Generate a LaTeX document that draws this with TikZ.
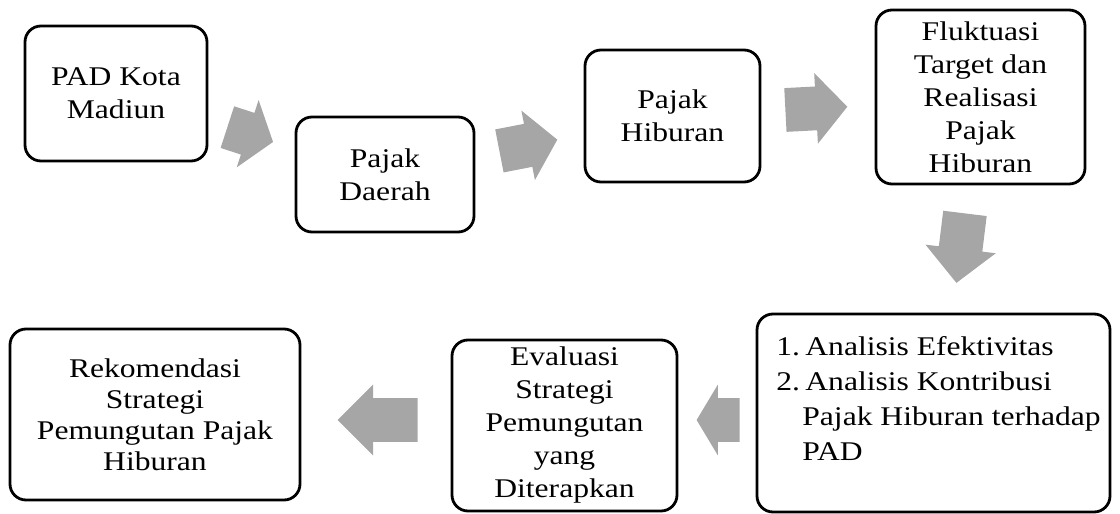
\documentclass[tikz,border=0pt]{standalone}
\usepackage{fontspec}
\setmainfont{Liberation Serif}[FakeStretch=1.17]
\usetikzlibrary{shapes.arrows}
\definecolor{arrowgray}{RGB}{166,166,166}
\tikzset{
  box/.style={draw,line width=1.4pt,rounded corners=8pt,fill=white,align=center,inner sep=0pt,font=\fontsize{13.5}{16.5}\selectfont},
  listtext/.style={align=left,inner sep=0pt,anchor=north west,font=\fontsize{13.5}{17.5}\selectfont},
  blockarrow/.style={single arrow,fill=arrowgray,inner xsep=0pt,inner ysep=10.75pt,minimum width=35pt,single arrow head extend=6.75pt,anchor=tail},
}

\begin{document}
\begin{tikzpicture}[x=0.5pt,y=-0.5pt]
      \useasboundingbox (0,0) rectangle (1120,514);
      % top row
      \node [box,minimum width=91pt,minimum height=67.5pt] at (116,93.5) (b1) {PAD Kota\\Madiun};
      \node [box,minimum width=89pt,minimum height=57.5pt] at (385,174.5) (b2) {Pajak\\Daerah};
      \node [box,minimum width=87.5pt,minimum height=66pt] at (672.5,116) (b3) {Pajak\\Hiburan};
      \node [box,minimum width=104.5pt,minimum height=87pt] at (980.5,97) (b4) {Fluktuasi\\Target dan\\Realisasi\\Pajak\\Hiburan};
      % bottom row
      \node [box,minimum width=176.5pt,minimum height=99pt] at (933.5,413) (b5) {};
      \node [listtext] at (776,336) (b5text) {\makebox[14.5pt][l]{1.}Analisis Efektivitas\\
        \makebox[14.5pt][l]{2.}Analisis Kontribusi\\
        \makebox[13pt]{}Pajak Hiburan terhadap\\
        \makebox[13pt]{}PAD};
      \node [box,minimum width=112.5pt,minimum height=85.5pt] at (564.5,425.5) (b6) {Evaluasi\\Strategi\\Pemungutan\\yang\\Diterapkan};
      \node [box,minimum width=145pt,minimum height=85.5pt,font=\fontsize{13.5}{15.5}\selectfont] at (155,414.5) (b7) {Rekomendasi\\Strategi\\Pemungutan Pajak\\Hiburan};
      % block arrows
      \foreach \name/\x/\y/\ang/\len/\tip in {a1/227/127/-18/24/106,a2/499/151/11/29.5/100,a3/785/110/3/31/97,
        a4/965/213/-97/35/92,a5/740/420/180/21.5/118,a6/418/420/180/40/90}
      {
        \node [blockarrow,rotate=\ang,minimum height=\len pt,single arrow tip angle=\tip] at (\x,\y) (\name) {};
      }
\end{tikzpicture}
\end{document}
